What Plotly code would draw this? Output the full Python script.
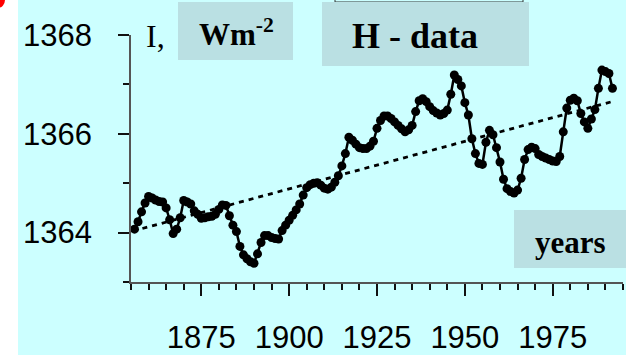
import plotly.graph_objects as go

years = list(range(1856, 1993))
irradiance = [
    1364.07, 1364.22, 1364.42, 1364.60, 1364.73, 1364.70, 1364.66, 1364.63, 1364.62, 1364.50,
    1364.26, 1363.98, 1364.07, 1364.30, 1364.65, 1364.62, 1364.58, 1364.44, 1364.37, 1364.29,
    1364.30, 1364.32, 1364.33, 1364.37, 1364.47, 1364.56, 1364.55, 1364.34, 1364.15, 1364.02,
    1363.72, 1363.55, 1363.47, 1363.41, 1363.38, 1363.57, 1363.80, 1363.94, 1363.94, 1363.90,
    1363.88, 1363.87, 1364.04, 1364.15, 1364.25, 1364.35, 1364.46, 1364.58, 1364.76, 1364.91,
    1364.97, 1365.00, 1365.01, 1364.96, 1364.90, 1364.88, 1364.92, 1365.02, 1365.15, 1365.35,
    1365.60, 1365.93, 1365.87, 1365.79, 1365.72, 1365.70, 1365.70, 1365.75, 1365.85, 1366.11,
    1366.27, 1366.36, 1366.36, 1366.31, 1366.24, 1366.17, 1366.10, 1366.04, 1366.08, 1366.17,
    1366.45, 1366.67, 1366.71, 1366.65, 1366.55, 1366.47, 1366.42, 1366.38, 1366.41, 1366.48,
    1366.80, 1367.19, 1367.10, 1366.97, 1366.63, 1366.38, 1365.90, 1365.60, 1365.40, 1365.38,
    1365.83, 1366.07, 1365.98, 1365.72, 1365.43, 1365.08, 1364.89, 1364.83, 1364.80, 1364.86,
    1365.10, 1365.48, 1365.68, 1365.73, 1365.70, 1365.58, 1365.54, 1365.51, 1365.48, 1365.45,
    1365.44, 1365.54, 1366.04, 1366.52, 1366.68, 1366.72, 1366.67, 1366.41, 1366.24, 1366.11,
    1366.30, 1366.49, 1366.92, 1367.29, 1367.26, 1367.22, 1366.92,
]
trend_years = [1855.5, 1992.3]
trend_values = [1364.03, 1366.66]

x_ticks = [1875, 1900, 1925, 1950, 1975]
y_ticks = [1364, 1366, 1368]

W, H = 643, 355
L, R, T, B = 131, 623, 35, 282


def px(x):
    return (x - L) / (R - L)


def py(y):
    return (B - y) / (B - T)


fig = go.Figure()
fig.add_trace(go.Scatter(
    x=trend_years, y=trend_values, mode="lines",
    line=dict(color="black", width=2.8, dash="5px,5px"), hoverinfo="skip",
))
fig.add_trace(go.Scatter(
    x=years, y=irradiance, mode="lines+markers",
    line=dict(color="black", width=2.5),
    marker=dict(color="black", size=9),
))

shapes = [
    dict(type="rect", xref="paper", yref="paper", x0=px(18), x1=px(626), y0=py(356), y1=py(-1),
         fillcolor="#CCFFFF", line=dict(width=0), layer="below"),
    dict(type="circle", xref="paper", yref="paper", x0=px(-10), x1=px(5), y0=py(8), y1=py(-8),
         fillcolor="#FF0000", line=dict(width=0), layer="above"),
    dict(type="rect", xref="paper", yref="paper", x0=px(335), x1=px(523), y0=py(2), y1=py(-5),
         fillcolor="rgba(0,0,0,0)", line=dict(width=1, color="#333"), layer="below"),
]
for (x0, x1, y0, y1) in [(178, 293, 2, 60), (322, 529, 2, 66), (514, 626, 210, 268)]:
    shapes.append(dict(type="rect", xref="paper", yref="paper", x0=px(x0), x1=px(x1),
                       y0=py(y1), y1=py(y0), fillcolor="#BAE0E3", line=dict(width=0), layer="below"))

serif = "Liberation Serif, Times New Roman, serif"
annotations = [
    dict(text="I,", x=px(155), y=py(36), xref="paper", yref="paper", showarrow=False,
         font=dict(family=serif, size=32, color="black"), xanchor="center", yanchor="middle"),
    dict(text="<b>Wm<sup>-2</sup></b>", x=px(236), y=py(33), xref="paper", yref="paper", showarrow=False,
         font=dict(family=serif, size=31, color="black"), xanchor="center", yanchor="middle"),
    dict(text="<b>H - data</b>", x=px(415), y=py(36), xref="paper", yref="paper", showarrow=False,
         font=dict(family=serif, size=36, color="black"), xanchor="center", yanchor="middle"),
    dict(text="<b>years</b>", x=px(570), y=py(242), xref="paper", yref="paper", showarrow=False,
         font=dict(family=serif, size=31, color="black"), xanchor="center", yanchor="middle"),
]

fig.update_layout(
    width=W, height=H,
    margin=dict(l=L, r=W - R, t=T, b=H - B, pad=0, autoexpand=False),
    paper_bgcolor="white", plot_bgcolor="rgba(0,0,0,0)",
    showlegend=False,
    shapes=shapes, annotations=annotations,
    font=dict(family="Liberation Sans, Arial, sans-serif", size=31, color="black"),
)
fig.update_xaxes(
    range=[1855, 1995], showgrid=False, zeroline=False, automargin=False,
    showline=True, linecolor="#555555", linewidth=1.5,
    tickmode="array", tickvals=x_ticks, ticktext=[str(v) for v in x_ticks],
    ticks="outside", ticklen=12, tickwidth=2, tickcolor="#111111",
    ticklabelstandoff=15,
    minor=dict(dtick=5, tick0=1855, ticks="outside", ticklen=6, tickwidth=2, tickcolor="#111111", showgrid=False),
)
fig.update_yaxes(
    range=[1363, 1368], showgrid=False, zeroline=False, automargin=False,
    showline=True, linecolor="#555555", linewidth=1.5,
    tickmode="array", tickvals=y_ticks, ticktext=[str(v) for v in y_ticks],
    ticks="outside", ticklen=11, tickwidth=2, tickcolor="#111111",
    ticklabelstandoff=20,
    minor=dict(dtick=1, tick0=1363, ticks="outside", ticklen=6, tickwidth=2, tickcolor="#111111", showgrid=False),
)

fig.write_html(
    "out.html",
    config={"displayModeBar": False},
    post_script="document.body.style.margin='0';document.body.style.overflow='hidden';",
)
